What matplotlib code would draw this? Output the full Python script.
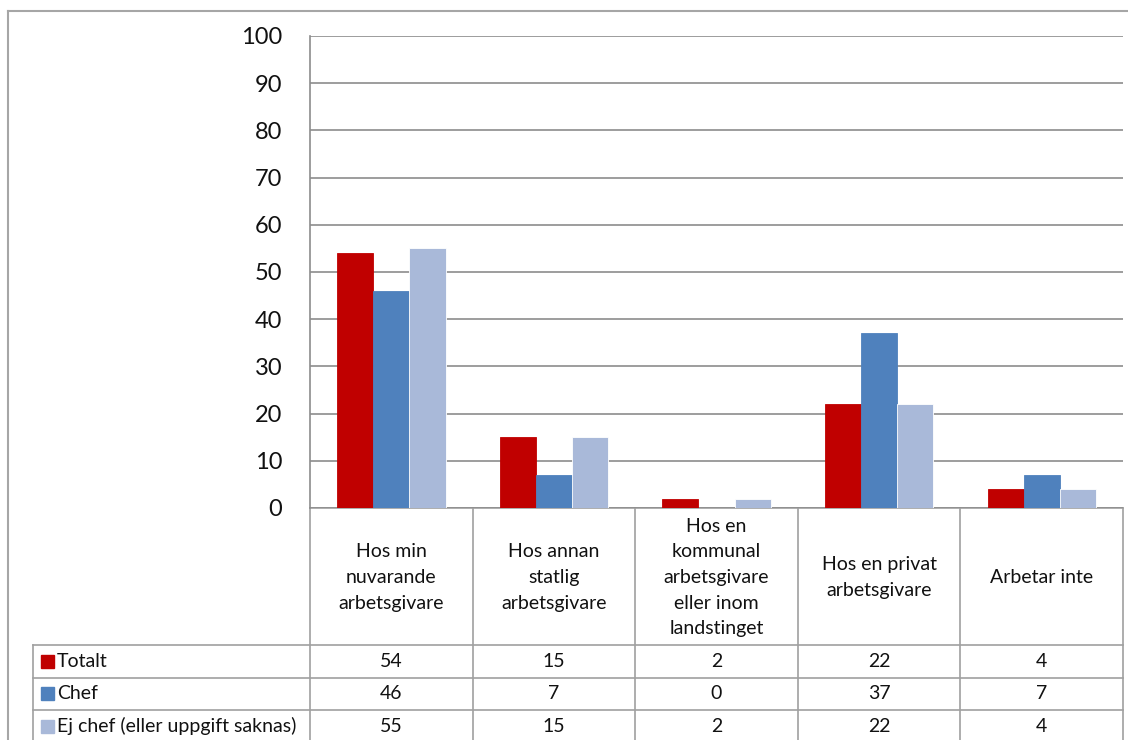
import matplotlib
matplotlib.use("Agg")
import matplotlib.pyplot as plt
from matplotlib.patches import Rectangle

plt.rcParams['font.family'] = ['Lato', 'DejaVu Sans']

# Data
categories = [
    "Hos min\nnuvarande\narbetsgivare",
    "Hos annan\nstatlig\narbetsgivare",
    "Hos en\nkommunal\narbetsgivare\neller inom\nlandstinget",
    "Hos en privat\narbetsgivare",
    "Arbetar inte",
]
series_names = ["Totalt", "Chef", "Ej chef (eller uppgift saknas)"]
totalt = [54, 15, 2, 22, 4]
chef = [46, 7, 0, 37, 7]
ej_chef = [55, 15, 2, 22, 4]
series_values = [totalt, chef, ej_chef]
colors = ["#C00000", "#4F81BD", "#A9B9D9"]
y_ticks = [0, 10, 20, 30, 40, 50, 60, 70, 80, 90, 100]

W, H = 1128, 740
fig = plt.figure(figsize=(W / 100, H / 100), dpi=100)

# Pixel-coordinate overlay for the frame and the data table
ov = fig.add_axes([0, 0, 1, 1])
ov.set_xlim(0, W)
ov.set_ylim(H, 0)
ov.axis('off')

grid_col = "#8C8C8C"
frame_col = "#A6A6A6"
text_col = "#111111"

# Plot area geometry (pixels)
px_left, px_right = 310, 1123
px_top, px_bottom = 36, 508

ax = fig.add_axes([px_left / W, 1 - px_bottom / H,
                   (px_right - px_left) / W, (px_bottom - px_top) / H])
ax.set_facecolor('none')

n_cat = len(categories)
n_ser = len(series_values)
bar_w = 1 / 4.5
for j, (vals, col) in enumerate(zip(series_values, colors)):
    xs = [i + (j - 1) * bar_w for i in range(n_cat)]
    ax.bar(xs, vals, width=bar_w, color=col, zorder=3,
           edgecolor='white' if j == 2 else col, linewidth=0.6)

ax.set_xlim(-0.5, n_cat - 0.5)
ax.set_ylim(0, 100)
ax.set_yticks(y_ticks)
ax.set_yticklabels([str(t) for t in y_ticks], fontsize=17, color=text_col)
ax.tick_params(axis='y', length=0, pad=20)
ax.set_xticks([])
ax.yaxis.grid(True, color=grid_col, linewidth=1.2, zorder=0)
for s in ['top', 'right', 'bottom']:
    ax.spines[s].set_visible(False)
ax.spines['left'].set_color(grid_col)
ax.spines['left'].set_linewidth(1.2)

# Outer chart border
ov.plot([8, 8], [11, H], color=frame_col, lw=1.5)
ov.plot([8, W], [11, 11], color=frame_col, lw=1.5)

# Data table
tbl_col = "#A0A0A0"
col_edges = [px_left + k * (px_right - px_left) / n_cat for k in range(n_cat + 1)]
header_bottom = 645
row_h = 32.5
row_edges = [header_bottom + r * row_h for r in range(n_ser + 1)]
tbl_left = 33

# horizontal lines
ov.plot([px_left, px_right], [px_bottom, px_bottom], color=tbl_col, lw=1.2)
for y in row_edges:
    ov.plot([tbl_left, px_right], [y, y], color=tbl_col, lw=1.2)
# vertical lines
for x in col_edges:
    ov.plot([x, x], [px_bottom, H], color=tbl_col, lw=1.2)
ov.plot([tbl_left, tbl_left], [header_bottom, H], color=tbl_col, lw=1.2)

# header cells
for k, cat in enumerate(categories):
    cx = (col_edges[k] + col_edges[k + 1]) / 2
    ov.text(cx, (px_bottom + header_bottom) / 2 + 1, cat, ha='center', va='center',
            fontsize=14, linespacing=1.62, color=text_col)

# rows
for r, (name, vals, col) in enumerate(zip(series_names, series_values, colors)):
    cy = row_edges[r] + row_h / 2
    ov.add_patch(Rectangle((41, cy - 6.5), 13, 13, color=col))
    ov.text(57, cy, name, ha='left', va='center', fontsize=14, color=text_col)
    for k, v in enumerate(vals):
        cx = (col_edges[k] + col_edges[k + 1]) / 2
        ov.text(cx, cy, str(v), ha='center', va='center', fontsize=14, color=text_col)

fig.savefig("out.png", dpi=100)
